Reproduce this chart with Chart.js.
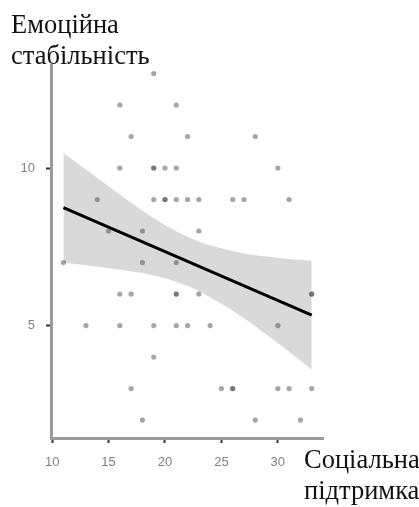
<!DOCTYPE html>
<html>
<head>
<meta charset="utf-8">
<script src="https://cdn.jsdelivr.net/npm/chart.js@4.4.1/dist/chart.umd.min.js"></script>
<style>
  html, body { margin: 0; padding: 0; background: #fff; }
  #wrap { position: relative; width: 419px; height: 507px; }
  .axisTitle {
    position: absolute;
    font-family: "Liberation Serif", "Times New Roman", serif;
    font-size: 26.5px;
    line-height: 31px;
    color: #111;
    white-space: nowrap;
  }
</style>
</head>
<body>
<div id="wrap">
  <canvas id="scatter" width="419" height="507"></canvas>
  <div class="axisTitle" id="yTitle" style="left:11px; top:9px;">Емоційна<br>стабільність</div>
  <div class="axisTitle" id="xTitle" style="left:304px; top:444px;">Соціальна<br>підтримка</div>
</div>
<script>
// соціальна підтримка (x) та емоційна стабільність (y) — кожна точка
var socialSupport = [19, 16, 21, 17, 22, 28, 16, 19, 19, 20, 21, 30,
    14, 19, 20, 20, 21, 22, 23, 26, 27, 31, 15, 18, 23, 11, 18, 21,
    16, 17, 21, 21, 23, 33, 33, 13, 16, 19, 21, 22, 24, 30, 19,
    17, 25, 26, 26, 30, 31, 33, 18, 28, 32]
var emotionalStability = [13, 12, 12, 11, 11, 11, 10, 10, 10, 10, 10, 10,
    9, 9, 9, 9, 9, 9, 9, 9, 9, 9, 8, 8, 8, 7, 7, 7,
    6, 6, 6, 6, 6, 6, 6, 5, 5, 5, 5, 5, 5, 5, 4,
    3, 3, 3, 3, 3, 3, 3, 2, 2, 2]

// лінія регресії та довірчий інтервал (оцінено з рисунка)
var fitX = [11, 33]
var fitY = [8.74, 5.33]
var bandX = [11, 13, 15, 17, 19, 21, 23, 25, 27, 29, 31, 33]
var bandUpper = [10.48, 9.95, 9.42, 8.90, 8.41, 7.99, 7.67, 7.45, 7.29, 7.19, 7.11, 7.06]
var bandLower = [7.00, 6.91, 6.82, 6.72, 6.59, 6.39, 6.09, 5.69, 5.23, 4.71, 4.17, 3.60]

var xTicks = [10, 15, 20, 25, 30]
var yTicks = [5, 10]

function pares(xs, ys) {
    var out = []
    for (var i = 0; i < xs.length; i++) {
        out.push({ x: xs[i], y: ys[i] })
    }
    return out
}

var dados = {
    datasets: [{
        type: 'scatter',
        data: pares(socialSupport, emotionalStability),
        backgroundColor: 'rgba(66,66,66,0.47)',
        borderWidth: 0,
        pointRadius: 2.6,
    }, {
        type: 'line',
        data: pares(fitX, fitY),
        borderColor: '#000',
        borderWidth: 3,
        pointRadius: 0,
        fill: false,
    }, {
        type: 'line',
        data: pares(bandX, bandUpper),
        borderWidth: 0,
        borderColor: 'rgba(0,0,0,0)',
        backgroundColor: '#d9d9d9',
        pointRadius: 0,
        tension: 0.35,
        fill: '+1',
    }, {
        type: 'line',
        data: pares(bandX, bandLower),
        borderWidth: 0,
        borderColor: 'rgba(0,0,0,0)',
        pointRadius: 0,
        tension: 0.35,
        fill: false,
    }]
}

var fonteTicks = { family: '"Liberation Sans", Arial, sans-serif', size: 13 }

var config = {
    type: 'scatter',
    data: dados,
    options: {
        responsive: false,
        animation: { duration: 0 },
        layout: { padding: { top: 65, right: 96, left: 0, bottom: 0 } },
        plugins: {
            legend: { display: false },
            tooltip: { enabled: false },
        },
        scales: {
            x: {
                type: 'linear',
                min: 9.9,
                max: 34,
                afterBuildTicks: function (axis) {
                    axis.ticks = xTicks.map(function (v) { return { value: v } })
                },
                afterFit: function (axis) { axis.height = 69 },
                border: { color: '#9a9a9a', width: 3 },
                grid: { drawOnChartArea: false, tickLength: 5, tickColor: '#333', tickWidth: 2 },
                ticks: { color: '#808080', font: fonteTicks, padding: 12, maxRotation: 0 },
            },
            y: {
                type: 'linear',
                min: 1.43,
                max: 13.27,
                afterBuildTicks: function (axis) {
                    axis.ticks = yTicks.map(function (v) { return { value: v } })
                },
                afterFit: function (axis) { axis.width = 51 },
                border: { color: '#9a9a9a', width: 3 },
                grid: { drawOnChartArea: false, tickLength: 5, tickColor: '#333', tickWidth: 2 },
                ticks: { color: '#808080', font: fonteTicks, padding: 11 },
            }
        }
    }
}

var grafico = new Chart(document.getElementById('scatter'), config)
</script>
</body>
</html>
